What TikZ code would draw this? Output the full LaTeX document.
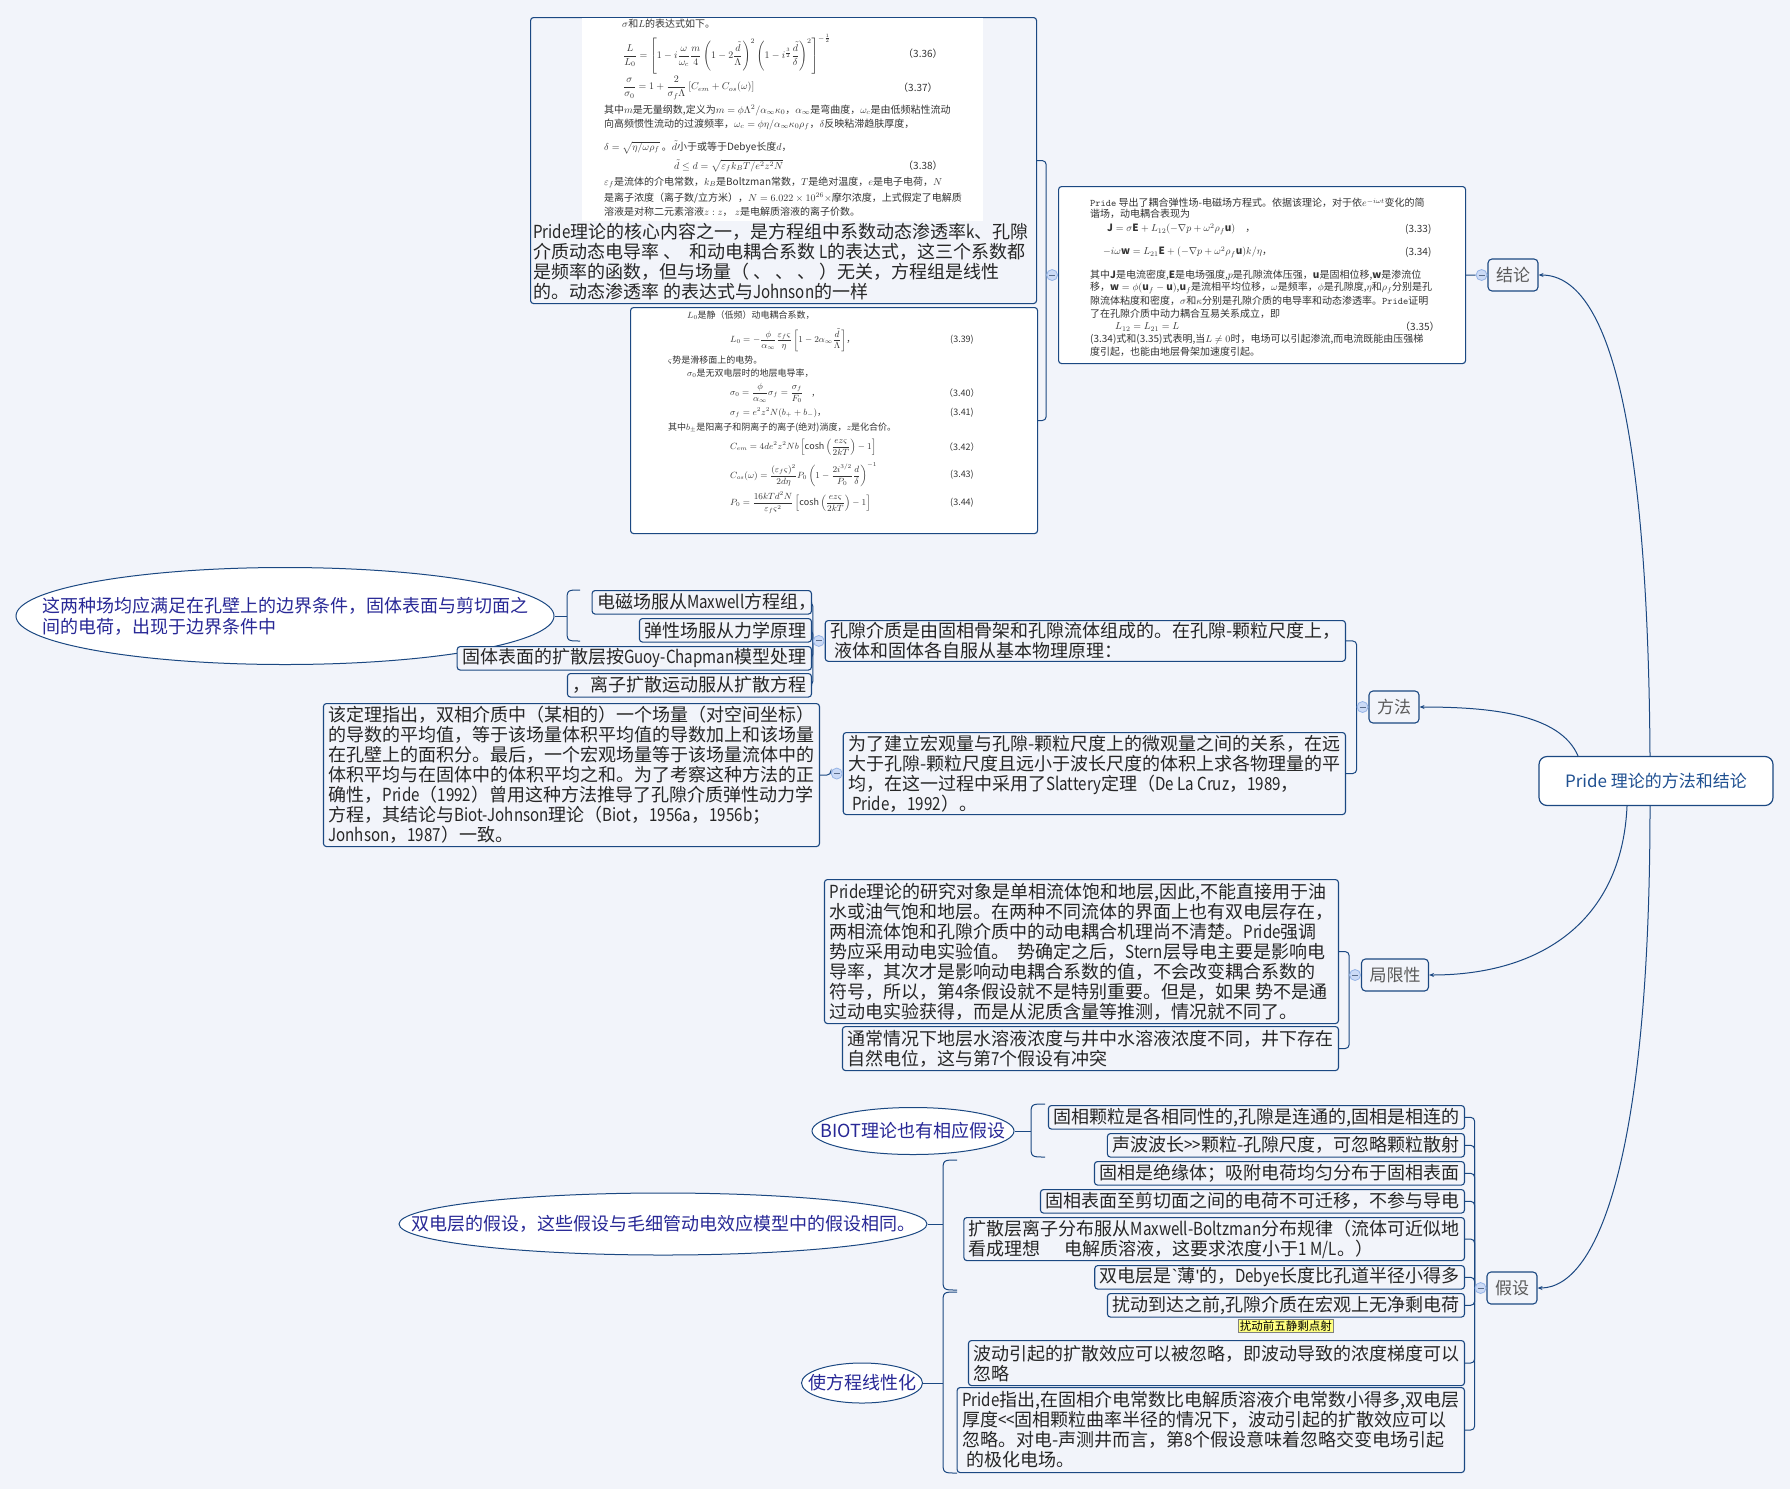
\documentclass[tikz,border=0pt]{standalone}
\usepackage{amsmath,amssymb}
\usepackage{fontspec}
\setmainfont{Noto Sans CJK SC}
\newfontfamily\latinfont{Noto Sans CJK SC}[FakeStretch=0.84]
\newfontfamily\quotefont{Liberation Sans}
\newcommand\latw[1]{{\latinfont#1}}
\usetikzlibrary{positioning,shapes.geometric,arrows.meta}
\pgfdeclarelayer{bglayer}
\pgfdeclarelayer{edgelayer}
\pgfsetlayers{bglayer,edgelayer,main}
\definecolor{canvas}{RGB}{242,244,250}
\definecolor{edgec}{RGB}{27,72,130}
\definecolor{foldc}{RGB}{203,218,246}
\definecolor{foldd}{RGB}{150,180,230}
\definecolor{sumc}{RGB}{40,40,150}
\definecolor{rootc}{RGB}{31,80,145}
\definecolor{mainc}{RGB}{90,90,90}
\definecolor{notec}{RGB}{255,255,128}
\tikzstyle{link}=[draw=edgec, line width=1pt]
\tikzstyle{rootlink}=[draw=edgec, line width=1pt, -{Stealth[length=5pt,width=4pt]}]
\tikzstyle{spine}=[draw=edgec, line width=1pt, rounded corners=4pt]
\tikzstyle{topic}=[draw=edgec, line width=1.1pt, rounded corners=3pt, fill=canvas, align=left, inner xsep=5pt, inner ysep=2pt, text=black!85, font=\fontsize{18}{20}\selectfont, anchor=north east, minimum height=23.5pt]
\tikzstyle{branch}=[draw=edgec, line width=1.1pt, rounded corners=4pt, fill=canvas, text=mainc, inner xsep=8pt, minimum height=32pt, font=\fontsize{17}{20}\selectfont]
\tikzstyle{root}=[draw=edgec, line width=1.2pt, rounded corners=8pt, fill=white, text=rootc, minimum width=234pt, minimum height=49pt, font=\fontsize{17}{20}\selectfont]
\tikzstyle{eqbox}=[draw=edgec, line width=1.1pt, rounded corners=3pt, inner sep=0pt, anchor=north west]
\tikzstyle{eqtext}=[anchor=west, inner sep=0pt, text=black!80, font=\fontsize{10}{12}\selectfont]
\tikzstyle{eqsmall}=[eqtext, font=\fontsize{9}{11}\selectfont]
\tikzstyle{summ}=[ellipse, draw=edgec, line width=1pt, fill=white, inner sep=0pt]
\tikzstyle{sumtext}=[text=sumc, align=left, inner sep=0pt, font=\fontsize{18}{21}\selectfont]
\tikzstyle{fold}=[circle, draw=foldd, fill=foldc, line width=0.8pt, minimum size=11pt, inner sep=0pt,
  path picture={\draw[foldd!60!black, line width=0.9pt] ([xshift=-3pt]path picture bounding box.center) -- ([xshift=3pt]path picture bounding box.center);}]
\tikzstyle{note}=[draw=gray, fill=notec, inner sep=1.5pt, font=\fontsize{11.5}{13}\selectfont]
\begin{document}
\begin{tikzpicture}[x=1pt,y=-1pt]
\useasboundingbox (0,0) rectangle (1790,1489);
\begin{pgfonlayer}{bglayer}
\fill[canvas] (0,0) rectangle (1790,1489);
\end{pgfonlayer}
% centre and main branches
\node[root] (root) at (1656,781) {Pride 理论的方法和结论};
\node[branch] (jl) at (1513,275) {结论};
\node[branch] (ff) at (1394,707) {方法};
\node[branch] (jx) at (1395,975) {局限性};
\node[branch] (js) at (1512,1288) {假设};
% conclusion: equation boxes
\node[eqbox, fill=white, minimum width=407pt, minimum height=177pt] (rb) at (1058,186) {};
\node[eqtext] (r1) at (1090,203) {\texttt{Pride} 导出了耦合弹性场-电磁场方程式。依据该理论，对于依$e^{-i\omega t}$变化的简};
\node[eqtext] (r2) at (1090,214) {谐场，动电耦合表现为};
\node[eqtext] (r3) at (1107,229) {$\mathbf{J}=\sigma\mathbf{E}+L_{12}(-\nabla p+\omega^2\rho_f\mathbf{u})$\quad ，};
\node[eqtext] (r3n) at (1405,229) {(3.33)};
\node[eqtext] (r4) at (1103,252) {$-i\omega\mathbf{w}=L_{21}\mathbf{E}+(-\nabla p+\omega^2\rho_f\mathbf{u})k/\eta$，};
\node[eqtext] (r4n) at (1405,252) {(3.34)};
\node[eqtext] (r5) at (1090,275) {其中$\mathbf{J}$是电流密度,$\mathbf{E}$是电场强度,$p$是孔隙流体压强，$\mathbf{u}$是固相位移,$\mathbf{w}$是渗流位};
\node[eqtext] (r6) at (1090,288) {移，$\mathbf{w}=\phi(\mathbf{u}_f-\mathbf{u})$,$\mathbf{u}_f$是流相平均位移，$\omega$是频率，$\phi$是孔隙度,$\eta$和$\rho_f$分别是孔};
\node[eqtext] (r7) at (1090,301) {隙流体粘度和密度，$\sigma$和$\kappa$分别是孔隙介质的电导率和动态渗透率。\texttt{Pride}证明};
\node[eqtext] (r8) at (1090,314) {了在孔隙介质中动力耦合互易关系成立，即};
\node[eqtext] (r9) at (1115,327) {$L_{12}=L_{21}=L$};
\node[eqtext] (r9n) at (1400,327) {（3.35）};
\node[eqtext] (r10) at (1090,339) {(3.34)式和(3.35)式表明,当$L\neq0$时，电场可以引起渗流,而电流既能由压强梯};
\node[eqtext] (r11) at (1090,352) {度引起，也能由地层骨架加速度引起。};
\node[eqbox, fill=canvas, minimum width=506pt, minimum height=286pt] (tb) at (530,17) {};
\fill[white] (582,18) rectangle (983,221);
\node[eqtext] (t1) at (622,24) {$\sigma$和$L$的表达式如下。};
\node[eqtext] (t2) at (623,54) {$\dfrac{L}{L_0}=\left[1-i\dfrac{\omega}{\omega_c}\dfrac{m}{4}\left(1-2\dfrac{\tilde d}{\Lambda}\right)^{2}\left(1-i^{\frac{3}{2}}\dfrac{\tilde d}{\delta}\right)^{2}\right]^{-\frac{1}{2}}$};
\node[eqtext] (t2n) at (903,54) {（3.36）};
\node[eqtext] (t3) at (623,88) {$\dfrac{\sigma}{\sigma_0}=1+\dfrac{2}{\sigma_f\Lambda}\left[C_{em}+C_{os}(\omega)\right]$};
\node[eqtext] (t3n) at (898,88) {（3.37）};
\node[eqtext] (t4) at (604,110) {其中$m$是无量纲数,定义为$m=\phi\Lambda^2/\alpha_\infty\kappa_0$，$\alpha_\infty$是弯曲度，$\omega_c$是由低频粘性流动};
\node[eqtext] (t5) at (604,124.5) {向高频惯性流动的过渡频率，$\omega_c=\phi\eta/\alpha_\infty\kappa_0\rho_f$，$\delta$反映粘滞趋肤厚度，};
\node[eqtext] (t6) at (604,147) {$\delta=\smash{\sqrt{\eta/\omega\rho_f}}$\ 。$\tilde d$小于或等于Debye长度$d$，};
\node[eqtext] (t7) at (674,166) {$\tilde d\le d=\sqrt{\varepsilon_f k_BT/e^2z^2N}$};
\node[eqtext] (t7n) at (903,166) {（3.38）};
\node[eqtext] (t8) at (604,182.5) {$\varepsilon_f$是流体的介电常数，$k_B$是Boltzman常数，$T$是绝对温度，$e$是电子电荷，$N$};
\node[eqtext] (t9) at (604,198) {是离子浓度（离子数/立方米），$N=6.022\times10^{26}\times$摩尔浓度，上式假定了电解质};
\node[eqtext] (t10) at (604,212) {溶液是对称二元素溶液$z:z$，\ $z$是电解质溶液的离子价数。};
\node[eqtext, anchor=north west, align=left, font=\fontsize{18}{20}\selectfont, text=black!85] (tbc) at (533,223) {\latw{Pride}理论的核心内容之一，是方程组中系数动态渗透率\latw{k}、孔隙\\介质动态电导率\ 、\ \ 和动电耦合系数 \latw{L}的表达式，这三个系数都\\是频率的函数，但与场量（\ 、\ 、\ 、\ ）无关，方程组是线性\\的。动态渗透率\ 的表达式与\latw{Johnson}的一样};
\node[eqbox, fill=white, minimum width=407pt, minimum height=226pt] (mb) at (630,307) {};
\node[eqsmall] (m1) at (687,315) {$L_0$是静（低频）动电耦合系数，};
\node[eqsmall] (m2) at (730,340) {$L_0=-\dfrac{\phi}{\alpha_\infty}\dfrac{\varepsilon_f\varsigma}{\eta}\left[1-2\alpha_\infty\dfrac{\tilde d}{\Lambda}\right]$，};
\node[eqsmall] (m2n) at (950,340) {(3.39)};
\node[eqsmall] (m3) at (668,360) {$\varsigma$势是滑移面上的电势。};
\node[eqsmall] (m4) at (687,373) {$\sigma_0$是无双电层时的地层电导率，};
\node[eqsmall] (m5) at (730,393) {$\sigma_0=\dfrac{\phi}{\alpha_\infty}\sigma_f=\dfrac{\sigma_f}{F_0}$\quad ,};
\node[eqsmall] (m5n) at (944,393) {（3.40）};
\node[eqsmall] (m6) at (730,413) {$\sigma_f=e^2z^2N(b_++b_-)$，};
\node[eqsmall] (m6n) at (950,413) {(3.41)};
\node[eqsmall] (m7) at (668,428) {其中$b_\pm$是阳离子和阴离子的离子(绝对)淌度，$z$是化合价。};
\node[eqsmall] (m8) at (730,447) {$C_{em}=4de^2z^2Nb\left[\cosh\left(\dfrac{ez\varsigma}{2kT}\right)-1\right]$};
\node[eqsmall] (m8n) at (944,447) {（3.42）};
\node[eqsmall] (m9) at (730,475) {$C_{os}(\omega)=\dfrac{(\varepsilon_f\varsigma)^2}{2d\eta}P_0\left(1-\dfrac{2i^{3/2}}{P_0}\dfrac{d}{\delta}\right)^{-1}$};
\node[eqsmall] (m9n) at (950,475) {(3.43)};
\node[eqsmall] (m10) at (730,503) {$P_0=\dfrac{16kTd^2N}{\varepsilon_f\varsigma^2}\left[\cosh\left(\dfrac{ez\varsigma}{2kT}\right)-1\right]$};
\node[eqsmall] (m10n) at (950,503) {(3.44)};
% method
\node[summ, minimum width=538pt, minimum height=97pt] (sA) at (285,616) {};
\node[sumtext] (sAt) at (sA.center) {这两种场均应满足在孔壁上的边界条件，固体表面与剪切面之\\间的电荷，出现于边界条件中};
\node[topic] (mA) at (1346,620) {孔隙介质是由固相骨架和孔隙流体组成的。在孔隙-颗粒尺度上，\\\hspace{4pt}液体和固体各自服从基本物理原理：};
\node[topic] (a1) at (812,590) {电磁场服从\latw{Maxwell}方程组，\kern-10pt};
\node[topic] (a2) at (812,618) {弹性场服从力学原理};
\node[topic] (a3) at (812,646) {固体表面的扩散层按\latw{Guoy-Chapman}模型处理};
\node[topic] (a4) at (812,673) {，离子扩散运动服从扩散方程};
\node[topic, minimum height=82pt] (mB) at (1346,732) {为了建立宏观量与孔隙-颗粒尺度上的微观量之间的关系，在远\\大于孔隙-颗粒尺度且远小于波长尺度的体积上求各物理量的平\\均，在这一过程中采用了\latw{Slattery}定理（\latw{De La Cruz}，\latw{1989}，\\\hspace{4pt}\latw{Pride}，\latw{1992}）。};
\node[topic, minimum height=143pt] (mC) at (820,703) {该定理指出，双相介质中（某相的）一个场量（对空间坐标）\\的导数的平均值，等于该场量体积平均值的导数加上和该场量\\在孔壁上的面积分。最后，一个宏观场量等于该场量流体中的\\体积平均与在固体中的体积平均之和。为了考察这种方法的正\\确性，\latw{Pride}（\latw{1992}）曾用这种方法推导了孔隙介质弹性动力学\\方程，其结论与\latw{Biot-Johnson}理论（\latw{Biot}，\latw{1956a}，\latw{1956b}；\\\latw{Jonhson}，\latw{1987}）一致。};
% limitation
\node[topic, minimum height=144pt] (L1) at (1339,879) {\latw{Pride}理论的研究对象是单相流体饱和地层,因此,不能直接用于油\\水或油气饱和地层。在两种不同流体的界面上也有双电层存在，\\两相流体饱和孔隙介质中的动电耦合机理尚不清楚。\latw{Pride}强调\\势应采用动电实验值。\ \ 势确定之后，\latw{Stern}层导电主要是影响电\\导率，其次才是影响动电耦合系数的值，不会改变耦合系数的\\符号，所以，第\latw{4}条假设就不是特别重要。但是，如果\ 势不是通\\过动电实验获得，而是从泥质含量等推测，情况就不同了。};
\node[topic, minimum height=44pt] (L2) at (1339,1026) {通常情况下地层水溶液浓度与井中水溶液浓度不同，井下存在\\自然电位，这与第\latw{7}个假设有冲突};
% assumptions
\node[topic] (h1) at (1465,1105) {固相颗粒是各相同性的,孔隙是连通的,固相是相连的};
\node[topic] (h2) at (1465,1133) {声波波长\latw{>\kern0pt>}颗粒-孔隙尺度，可忽略颗粒散射};
\node[topic] (h3) at (1465,1161) {固相是绝缘体；吸附电荷均匀分布于固相表面};
\node[topic] (h4) at (1465,1189) {固相表面至剪切面之间的电荷不可迁移，不参与导电};
\node[topic, minimum height=43pt] (h5) at (1465,1217) {扩散层离子分布服从\latw{Maxwell-Boltzman}分布规律（流体可近似地\\看成理想\hspace{24pt}电解质溶液，这要求浓度小于\latw{1 M/L}。）};
\node[topic] (h6) at (1465,1265) {双电层是{\quotefont`}薄{\quotefont'}的，\latw{Debye}长度比孔道半径小得多};
\node[topic] (h7) at (1465,1293) {扰动到达之前,孔隙介质在宏观上无净剩电荷};
\node[note, below=1pt of h7] (h7n) {扰动前五静剩点射};
\node[topic, minimum height=45pt] (h8) at (1465,1340) {波动引起的扩散效应可以被忽略，即波动导致的浓度梯度可以\\忽略};
\node[topic, minimum height=85pt] (h9) at (1465,1387) {\latw{Pride}指出,在固相介电常数比电解质溶液介电常数小得多,双电层\\厚度\latw{<\kern0pt<}固相颗粒曲率半径的情况下，波动引起的扩散效应可以\\忽略。对电-声测井而言，第\latw{8}个假设意味着忽略交变电场引起\\\hspace{4pt}的极化电场。};
\node[summ, minimum width=202pt, minimum height=47pt] (sB) at (913,1131) {};
\node[sumtext] (sBt) at (sB.center) {BIOT理论也有相应假设};
\node[summ, minimum width=528pt, minimum height=62pt] (sC) at (663,1224) {};
\node[sumtext] (sCt) at (sC.center) {双电层的假设，这些假设与毛细管动电效应模型中的假设相同。};
\node[summ, minimum width=121pt, minimum height=40pt] (sD) at (862,1383) {};
\node[sumtext] (sDt) at (sD.center) {使方程线性化};
% fold marks
\node[fold, left=0pt of jl] (jlF) {};
\node[fold, left=0pt of rb] (rbF) {};
\node[fold, left=0pt of ff] (ffF) {};
\node[fold, left=0pt of mA] (mAF) {};
\node[fold, left=0pt of mB] (mBF) {};
\node[fold, left=0pt of jx] (jxF) {};
\node[fold, left=0pt of js] (jsF) {};
\coordinate (bA) at (567,616);
\coordinate (bB) at (1031,1131);
\coordinate (bC) at (943,1224);
\coordinate (bD) at (943,1383);
\begin{pgfonlayer}{edgelayer}
\draw[rootlink] ([xshift=-6pt]root.north) .. controls +(-2,-307) and +(76,0) .. (jl.east);
\draw[rootlink] ([xshift=-78pt]root.north) .. controls +(-18,-42) and +(71,0) .. (ff.east);
\draw[rootlink] ([xshift=-29pt]root.south) .. controls +(-5,114) and +(113,0) .. (jx.east);
\draw[rootlink] ([xshift=-6pt]root.south) .. controls +(0,344) and +(62,0) .. (js.east);
\draw[link] (rb.east) -- (jlF);
\draw[spine] (tb.east) -| (rbF.west);
\draw[spine] (mb.east) -| (rbF.west);
\draw[spine] (mA.east) -| (ffF.west);
\draw[spine] (mB.east) -| (ffF.west);
\draw[spine] (a1.east) -| (mAF.west);
\draw[spine] (a2.east) -| (mAF.west);
\draw[spine] (a3.east) -| (mAF.west);
\draw[spine] (a4.east) -| (mAF.west);
\draw[spine] (mC.east) -| (mBF.west);
\draw[spine] (L1.east) -| (jxF.west);
\draw[spine] (L2.east) -| (jxF.west);
\foreach \h in {h1,h2,h3,h4,h5,h6,h7,h8,h9}
  \draw[spine] (\h.east) -| (jsF.west);
% summary braces
\draw[link] (580,590) .. controls (567,590) .. (567,602) -- (567,629) .. controls (567,641) .. (580,641);
\draw[link] (sA.east) -- (bA);
\draw[link] (1045,1104) .. controls (1031,1104) .. (1031,1116) -- (1031,1145) .. controls (1031,1157) .. (1045,1157);
\draw[link] (sB.east) -- (bB);
\draw[link] (957,1160) .. controls (943,1160) .. (943,1172) -- (943,1278) .. controls (943,1290) .. (957,1290);
\draw[link] (sC.east) -- (bC);
\draw[link] (957,1292) .. controls (943,1292) .. (943,1304) -- (943,1461) .. controls (943,1473) .. (957,1473);
\draw[link] (sD.east) -- (bD);
\end{pgfonlayer}
\end{tikzpicture}
\end{document}
